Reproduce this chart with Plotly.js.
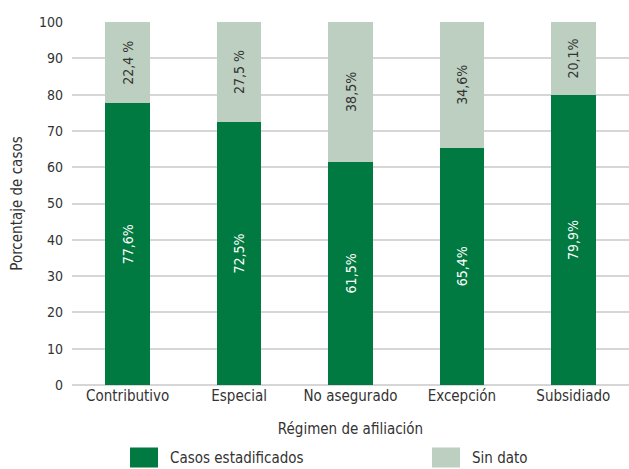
<!DOCTYPE html>
<html>
<head>
<meta charset="utf-8">
<script src="https://cdn.plot.ly/plotly-3.0.1.min.js"></script>
<style>html,body{margin:0;padding:0;background:#fff;}#chart{width:629px;height:469px;}</style>
</head>
<body>
<div id="chart"></div>
<script>
const categories = ['Contributivo', 'Especial', 'No asegurado', 'Excepción', 'Subsidiado'];
const estadificados = [77.6, 72.5, 61.5, 65.4, 79.9];
const sinDato = [22.4, 27.5, 38.5, 34.6, 20.1];
const estadificadosLabels = ['77,6%', '72,5%', '61,5%', '65,4%', '79,9%'];
const sinDatoLabels = ['22,4 %', '27,5 %', '38,5%', '34,6%', '20,1%'];
const yTicks = [0, 10, 20, 30, 40, 50, 60, 70, 80, 90, 100];

const FONT = '"DejaVu Sans Condensed", "Liberation Sans Narrow", "Open Sans", sans-serif';
const DARK = '#007a40';
const LIGHT = '#bccfc0';

const traces = [
  {
    type: 'bar', name: 'Casos estadificados', x: categories, y: estadificados,
    marker: {color: DARK}, text: estadificadosLabels, textposition: 'inside',
    insidetextanchor: 'middle', textangle: -90, legend: 'legend',
    textfont: {family: FONT, size: 14, color: '#ffffff'}, hoverinfo: 'none'
  },
  {
    type: 'bar', name: 'Sin dato', x: categories, y: sinDato,
    marker: {color: LIGHT}, text: sinDatoLabels, textposition: 'inside',
    insidetextanchor: 'middle', textangle: -90, legend: 'legend2',
    textfont: {family: FONT, size: 14, color: '#333333'}, hoverinfo: 'none'
  }
];

const legendBase = {
  orientation: 'h', xanchor: 'left', y: -0.155, yanchor: 'top',
  itemwidth: 42, bgcolor: 'rgba(0,0,0,0)',
  font: {family: FONT, size: 15, color: '#333333'}
};

const layout = {
  width: 629, height: 469,
  margin: {l: 72, r: 0, t: 22, b: 84, autoexpand: false},
  barmode: 'stack', bargap: 0.6,
  paper_bgcolor: '#ffffff', plot_bgcolor: '#ffffff',
  font: {family: FONT, size: 14, color: '#333333'},
  xaxis: {
    showgrid: false, zeroline: false, showline: false, ticks: '',
    tickfont: {family: FONT, size: 15, color: '#333333'},
    title: {text: 'Régimen de afiliación', font: {family: FONT, size: 15, color: '#333333'}, standoff: 19},
    automargin: false
  },
  yaxis: {
    range: [0, 100], tickvals: yTicks, ticktext: yTicks.map(String),
    showgrid: true, gridcolor: '#d6d6d6', gridwidth: 2,
    zeroline: true, zerolinecolor: '#d6d6d6', zerolinewidth: 2,
    showline: false, ticks: '', ticklabelstandoff: 8,
    tickfont: {family: FONT, size: 14, color: '#333333'},
    title: {text: 'Porcentaje de casos', font: {family: FONT, size: 15, color: '#333333'}, standoff: 12},
    automargin: false
  },
  showlegend: true,
  legend: Object.assign({}, legendBase, {x: 0.0826}),
  legend2: Object.assign({}, legendBase, {x: 0.6248})
};

Plotly.newPlot('chart', traces, layout, {displayModeBar: false, staticPlot: true}).then(function (gd) {
  gd.querySelectorAll('.legendpoints path').forEach(function (p) {
    p.setAttribute('d', 'M14,10H-14V-10H14Z');
  });
});
</script>
</body>
</html>
